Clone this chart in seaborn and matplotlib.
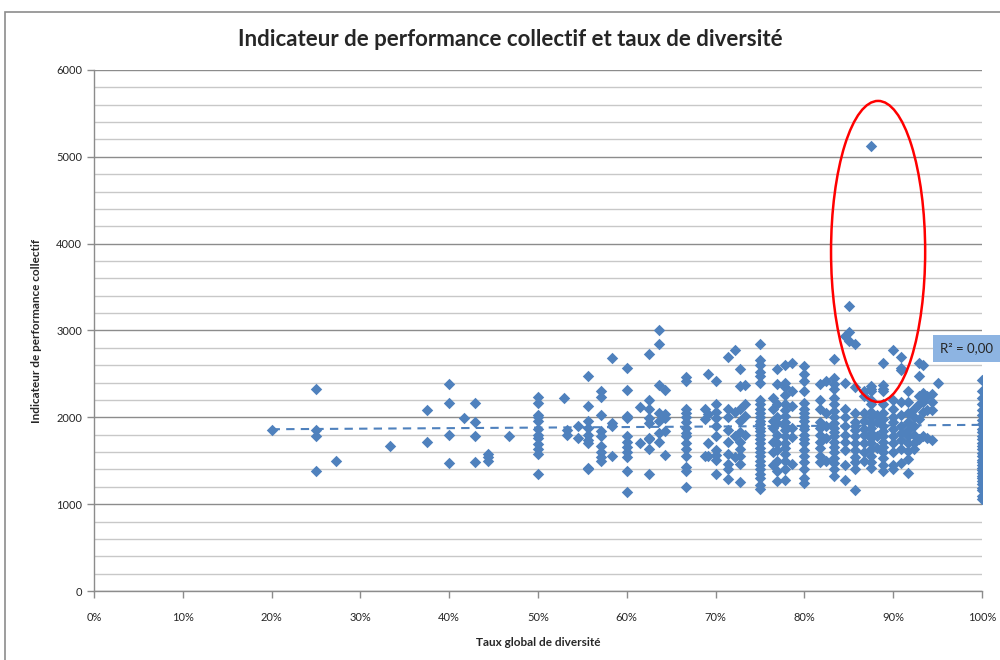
import seaborn as sns
import pandas as pd
import matplotlib.pyplot as plt
import numpy as np
from matplotlib.patches import Ellipse, Rectangle
from matplotlib.ticker import FuncFormatter, MultipleLocator

# taux global de diversite (one entry per column of points)
taux = [0.20, 0.25, 0.273, 0.333, 0.375, 0.40, 0.417, 0.429, 0.444, 0.467,
        0.50, 0.529, 0.533, 0.545, 0.556, 0.571, 0.583, 0.60, 0.615, 0.625,
        0.636, 0.643, 0.667, 0.688, 0.692, 0.70, 0.714, 0.722, 0.727, 0.733,
        0.75, 0.765, 0.769, 0.778, 0.786, 0.80, 0.818, 0.824, 0.833, 0.846,
        0.85, 0.857, 0.867, 0.875, 0.882, 0.889, 0.90, 0.909, 0.917, 0.923,
        0.929, 0.933, 0.938, 0.944, 0.95, 1.00]

# indicateur de performance collectif, per column
indicateur = [
    [1850],
    [2330, 1850, 1790, 1380],
    [1500],
    [1670],
    [2090, 1720],
    [2380, 2170, 1800, 1470],
    [1990],
    [2160, 1950, 1790, 1490],
    [1580, 1540, 1500],
    [1780],
    [2230, 2170, 2030, 2000, 1960, 1870, 1800, 1760, 1690, 1630, 1580, 1350],
    [2220],
    [1850, 1800],
    [1900, 1760],
    [2480, 2130, 1960, 1880, 1800, 1740, 1700, 1420, 1410],
    [2300, 2230, 2030, 1840, 1780, 1670, 1600, 1540, 1500],
    [2680, 1940, 1900, 1550],
    [2570, 2320, 2020, 1990, 1780, 1720, 1660, 1600, 1540, 1380, 1140],
    [2120, 1700],
    [2730, 2200, 2100, 1990, 1930, 1760, 1750, 1640, 1350],
    [3010, 2850, 2370, 2050, 1960, 1820, 1720],
    [2310, 2040, 1990, 1840, 1570],
    [2460, 2420, 2100, 2050, 2000, 1950, 1880, 1820, 1780, 1700, 1630, 1560,
     1430, 1380, 1200],
    [2100, 1980, 1560],
    [2500, 2040, 1700, 1560],
    [2420, 2150, 2060, 1990, 1900, 1790, 1620, 1570, 1510, 1350],
    [2700, 2100, 2000, 1850, 1720, 1580, 1460, 1400, 1290],
    [2780, 2060, 1780, 1540],
    [2560, 2360, 2100, 1960, 1830, 1720, 1640, 1560, 1460, 1260],
    [2370, 2150, 2010, 1800],
    [2850, 2660, 2600, 2520, 2480, 2400, 2200, 2150, 2100, 2050, 2000, 1960,
     1920, 1880, 1840, 1800, 1750, 1700, 1650, 1600, 1550, 1500, 1450, 1400,
     1350, 1300, 1220, 1180],
    [2220, 2100, 1960, 1880, 1720, 1600, 1450],
    [2560, 2380, 2150, 2000, 1930, 1800, 1700, 1620, 1500, 1380, 1270],
    [2600, 2400, 2350, 2260, 2150, 2080, 2020, 1950, 1900, 1850, 1780, 1700,
     1650, 1580, 1500, 1400, 1280],
    [2620, 2300, 2130, 1880, 1770, 1460],
    [2590, 2500, 2420, 2300, 2160, 2100, 2050, 2000, 1960, 1900, 1860, 1800,
     1750, 1700, 1620, 1550, 1490, 1400, 1300, 1240],
    [2380, 2200, 2100, 1950, 1880, 1800, 1720, 1650, 1550, 1480],
    [2420, 2050, 1900, 1760, 1500],
    [2670, 2450, 2380, 2330, 2220, 2150, 2070, 2000, 1940, 1880, 1830, 1780,
     1720, 1660, 1600, 1530, 1470, 1400, 1320],
    [2940, 2400, 2100, 2000, 1900, 1800, 1720, 1620, 1450, 1280],
    [3280, 2980, 2880],
    [2850, 2350, 2050, 1950, 1900, 1850, 1780, 1700, 1620, 1540, 1480, 1400,
     1160],
    [2300, 2250, 2050, 1960, 1870, 1800, 1700, 1600, 1500],
    [5120, 2360, 2330, 2300, 2200, 2150, 2060, 2000, 1940, 1880, 1820, 1760,
     1700, 1640, 1560, 1480, 1420],
    [2030, 1950, 1780, 1650],
    [2630, 2370, 2330, 2300, 2150, 2050, 1980, 1900, 1840, 1780, 1720, 1660,
     1600, 1530, 1450, 1380],
    [2780, 2200, 2100, 2000, 1950, 1860, 1780, 1700, 1600, 1450, 1400],
    [2690, 2570, 2540, 2180, 2030, 1900, 1820, 1740, 1640, 1470],
    [2300, 2180, 2050, 1950, 1850, 1780, 1700, 1610, 1520, 1360],
    [2100, 2000, 1900, 1800, 1700, 1640],
    [2620, 2480, 2250, 2150, 1980, 1750],
    [2600, 2280, 2180, 2060, 1780],
    [2250, 2080, 1760],
    [2270, 2180, 2080, 1740],
    [2390],
    [2430, 2300, 2220, 2150, 2090, 2030, 1970, 1920, 1870, 1830, 1790, 1750,
     1710, 1670, 1630, 1590, 1550, 1510, 1480, 1450, 1420, 1390, 1360, 1330,
     1300, 1270, 1230, 1190, 1160, 1100, 1060],
]

df = pd.DataFrame({
    'taux': np.repeat(taux, [len(v) for v in indicateur]),
    'indicateur': np.concatenate(indicateur),
})

sns.set_style('white')
plt.rcParams['font.family'] = ['Lato', 'DejaVu Sans']

fig = plt.figure(figsize=(10, 6.6), dpi=100)
ax = fig.add_axes([0.094, 0.1045, 0.888, 0.7895])

blue = '#4F81BD'
sns.regplot(data=df, x='taux', y='indicateur', ax=ax, ci=None, marker='D',
            scatter_kws={'s': 34, 'color': blue, 'linewidths': 0, 'alpha': 1, 'zorder': 3},
            line_kws={'color': blue, 'linestyle': (0, (4, 3)), 'linewidth': 1.5, 'zorder': 4})

ax.set_xlim(0, 1)
ax.set_ylim(0, 6000)
ax.xaxis.set_major_locator(MultipleLocator(0.1))
ax.xaxis.set_major_formatter(FuncFormatter(lambda v, p: f'{v * 100:.0f}%'))
ax.yaxis.set_major_locator(MultipleLocator(1000))
ax.yaxis.set_minor_locator(MultipleLocator(200))
ax.grid(axis='y', which='major', color='#8C8C8C', linewidth=1)
ax.grid(axis='y', which='minor', color='#C8C8C8', linewidth=1)
ax.grid(axis='x', visible=False)
ax.set_axisbelow(True)

for s in ['top', 'right']:
    ax.spines[s].set_visible(False)
for s in ['left', 'bottom']:
    ax.spines[s].set_color('#8C8C8C')
    ax.spines[s].set_linewidth(1)
ax.tick_params(axis='both', which='major', length=5, width=1, color='#8C8C8C',
               labelsize=8, direction='out', bottom=True, left=True)
ax.tick_params(axis='x', pad=10)
ax.tick_params(axis='y', which='minor', length=0)

ax.set_xlabel('Taux global de diversité', fontsize=8.5, fontweight='bold', labelpad=10)
ax.set_ylabel('Indicateur de performance collectif', fontsize=8.5, fontweight='bold', labelpad=10)
fig.suptitle('Indicateur de performance collectif et taux de diversité',
             x=0.51, y=0.956, fontsize=16, fontweight='bold')

# r-squared label of the trend line
fit = np.polyfit(df['taux'], df['indicateur'], 1)
r2 = np.corrcoef(df['taux'], df['indicateur'])[0, 1] ** 2
ax.text(0.983, np.polyval(fit, 1.0) + 880, f'R² = {r2:.2f}'.replace('.', ','),
        ha='center', va='center', fontsize=9.5, zorder=6, clip_on=False,
        bbox=dict(boxstyle='square,pad=0.55', facecolor='#8DB4E2', edgecolor='none'))

# red ellipse around the outliers
ax.add_patch(Ellipse((0.883, 3910), 0.106, 3467, fill=False, edgecolor='red',
                     linewidth=1.8, zorder=5))

# outer chart frame
fig.add_artist(Rectangle((0.005, -0.05), 1.05, 1.032, transform=fig.transFigure,
                         fill=False, edgecolor='#8C8C8C', linewidth=1.2))

fig.savefig('out.png', dpi=100)
